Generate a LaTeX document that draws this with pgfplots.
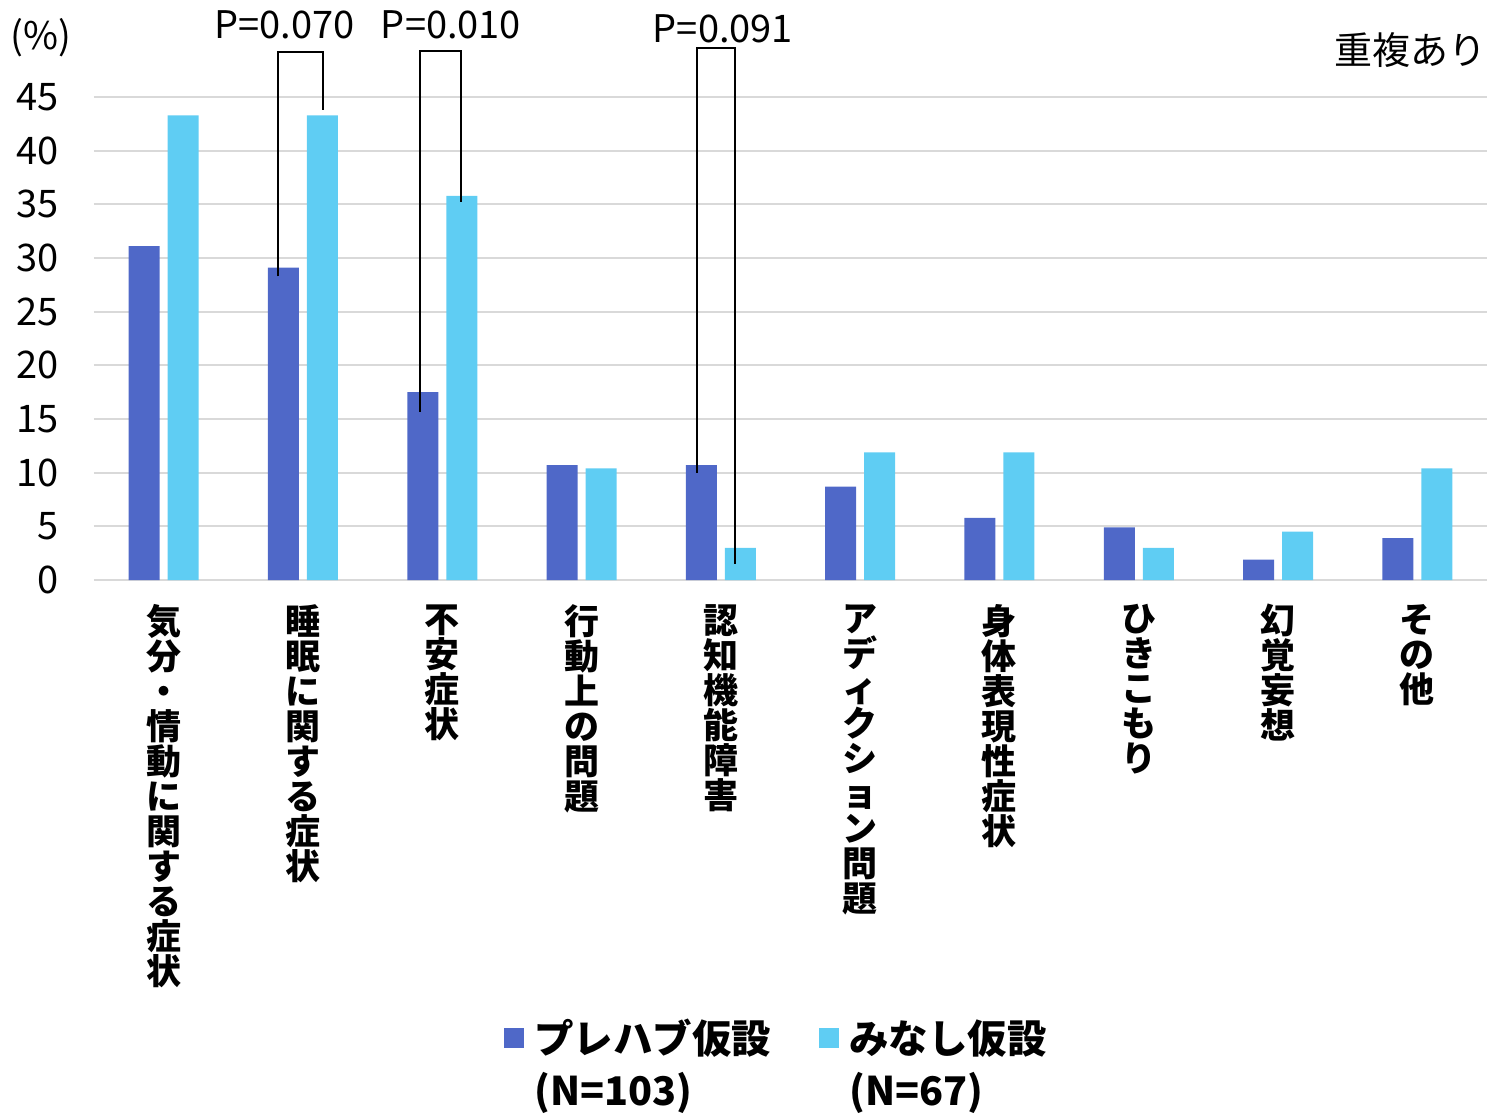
\documentclass[border=0pt]{standalone}
\usepackage{pgfplots}
\pgfplotsset{compat=1.18}
\usepackage{fontspec}
\setmainfont{Noto Sans CJK JP}
\definecolor{prefab}{HTML}{4F68C8}
\definecolor{minashi}{HTML}{5FCDF3}
\definecolor{gridgray}{HTML}{D9D9D9}

\begin{document}
\begin{tikzpicture}
\begin{axis}[
    scale only axis,
    width=696.5pt, height=241.5pt,
    xmin=-0.5, xmax=9.5,
    ymin=0, ymax=45,
    ytick={0,5,...,45},
    xtick={0,...,9},
    xticklabels={
      {気\\分\\・\\情\\動\\に\\関\\す\\る\\症\\状},
      {睡\\眠\\に\\関\\す\\る\\症\\状},
      {不\\安\\症\\状},
      {行\\動\\上\\の\\問\\題},
      {認\\知\\機\\能\\障\\害},
      {ア\\デ\\ィ\\ク\\シ\\ョ\\ン\\問\\題},
      {身\\体\\表\\現\\性\\症\\状},
      {ひ\\き\\こ\\も\\り},
      {幻\\覚\\妄\\想},
      {そ\\の\\他}},
    axis line style={draw=none},
    major tick length=0pt,
    ymajorgrids,
    grid style={gridgray, line width=1pt},
    ybar=4pt, bar width=15.5pt,
    clip=false,
    /pgf/number format/assume math mode=true,
    yticklabel style={font=\fontsize{19pt}{19pt}\selectfont, anchor=east, inner sep=0pt, xshift=-17.5pt},
    xticklabel style={font=\bfseries\fontsize{17.5pt}{17.5pt}\selectfont, align=center, anchor=north, inner sep=0pt, yshift=-12pt},
    legend columns=2,
    legend style={at={(0.2942,-0.904)}, anchor=north west, draw=none, fill=none, inner sep=0pt,
      font=\bfseries\fontsize{19.75pt}{26pt}\selectfont,
      /tikz/every odd column/.append style={column sep=5pt},
      /tikz/every even column/.append style={column sep=24pt},
      nodes={inner sep=0pt, anchor=base west}},
    legend image code/.code={\fill[#1] (0pt,2.5pt) rectangle (10pt,12.5pt);},
]
% プレハブ仮設 (N=103)
\addplot[fill=prefab, draw=none] coordinates {(0,31.1)(1,29.1)(2,17.5)(3,10.7)(4,10.7)(5,8.7)(6,5.8)(7,4.9)(8,1.9)(9,3.9)};
\addlegendentry{\begin{tabular}[t]{@{}l@{}}プレハブ仮設\\(N=103)\end{tabular}}
% みなし仮設 (N=67)
\addplot[fill=minashi, draw=none] coordinates {(0,43.3)(1,43.3)(2,35.8)(3,10.4)(4,3.0)(5,11.9)(6,11.9)(7,3.0)(8,4.5)(9,10.4)};
\addlegendentry{\begin{tabular}[t]{@{}l@{}}みなし仮設\\(N=67)\end{tabular}}

% brackets with p values
\draw[line width=1pt] (axis cs:0.818,28.3) |- (axis cs:1.146,49.2) -- (axis cs:1.146,43.8);
\draw[line width=1pt] (axis cs:1.840,15.7) |- (axis cs:2.138,49.3) -- (axis cs:2.138,35.25);
\draw[line width=1pt] (axis cs:3.829,10.0) |- (axis cs:4.099,49.6) -- (axis cs:4.099,1.5);
\node[font=\fontsize{19pt}{19pt}\selectfont] at (axis cs:0.866,51.7) {P=0.070};
\node[font=\fontsize{19pt}{19pt}\selectfont] at (axis cs:2.063,51.7) {P=0.010};
\node[font=\fontsize{19pt}{19pt}\selectfont] at (axis cs:4.015,51.35) {P=0.091};

\node[font=\fontsize{19pt}{19pt}\selectfont] at (axis cs:-0.883,50.56) {(\%)};
\node[font=\fontsize{19pt}{19pt}\selectfont, anchor=east, inner sep=0pt] at (axis cs:9.5,49.4) {重複あり};
\end{axis}
\pgfresetboundingbox
\path[use as bounding box] (-47pt,-267.5pt) rectangle (699.5pt,290pt);
\end{tikzpicture}
\end{document}
